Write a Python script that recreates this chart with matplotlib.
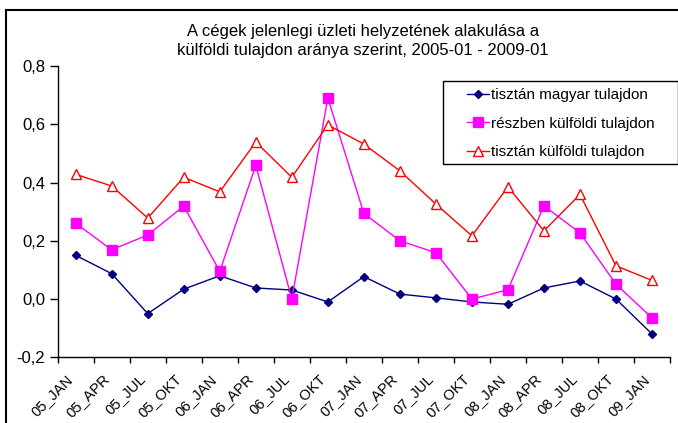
import matplotlib
matplotlib.use('Agg')
import matplotlib.pyplot as plt
import matplotlib.transforms as mtransforms
from matplotlib.ticker import FuncFormatter, FixedLocator
from matplotlib.lines import Line2D
from matplotlib.patches import Rectangle

plt.rcParams['font.family'] = ['Liberation Sans', 'DejaVu Sans']

# negyedéves időszakok
periods = ['05_JAN', '05_APR', '05_JUL', '05_OKT', '06_JAN', '06_APR', '06_JUL', '06_OKT',
           '07_JAN', '07_APR', '07_JUL', '07_OKT', '08_JAN', '08_APR', '08_JUL', '08_OKT', '09_JAN']

magyar = [0.150, 0.087, -0.050, 0.034, 0.080, 0.038, 0.031, -0.010,
          0.077, 0.017, 0.004, -0.010, -0.018, 0.038, 0.062, 0.000, -0.120]
reszben = [0.260, 0.169, 0.220, 0.319, 0.095, 0.459, 0.000, 0.690,
           0.294, 0.200, 0.159, 0.000, 0.032, 0.320, 0.227, 0.051, -0.065]
kulfoldi = [0.428, 0.388, 0.278, 0.418, 0.368, 0.539, 0.418, 0.598,
            0.532, 0.440, 0.326, 0.217, 0.385, 0.234, 0.359, 0.114, 0.064]

labels = ['tisztán magyar tulajdon', 'részben külföldi tulajdon', 'tisztán külföldi tulajdon']

W, H = 678, 423
fig = plt.figure(figsize=(W / 100, H / 100), dpi=100)
ax = fig.add_axes([57.7 / W, 1 - 357.3 / H, (670 - 57.7) / W, (357.3 - 66) / H])

x = list(range(len(periods)))
ax.plot(x, magyar, color='#000080', lw=1, marker='D', ms=4.5, mfc='#000080', mec='#000080',
        label=labels[0])
ax.plot(x, reszben, color='#FF00FF', lw=1, marker='s', ms=6.5, mfc='#FF00FF', mec='#FF00FF',
        label=labels[1])
ax.plot(x, kulfoldi, color='#FF0000', lw=1, marker='^', ms=6.5, mfc='white', mec='#FF0000',
        mew=1, label=labels[2])

ax.set_xlim(-0.5, len(periods) - 0.5)
ax.set_ylim(-0.2, 0.8)
ax.set_yticks([-0.2, 0.0, 0.2, 0.4, 0.6, 0.8])
ax.yaxis.set_major_formatter(FuncFormatter(lambda v, p: ('%.1f' % v).replace('.', ',')))

ax.xaxis.set_major_locator(FixedLocator([i - 0.5 for i in range(len(periods) + 1)]))
ax.xaxis.set_minor_locator(FixedLocator(x))
ax.set_xticklabels([])
ax.set_xticklabels(periods, minor=True, rotation=45, ha='right', va='center',
                   rotation_mode='anchor', fontsize=10.5)
ax.tick_params(axis='x', which='minor', length=0, pad=14)
ax.tick_params(axis='x', which='major', length=4, direction='out', width=1)
ax.tick_params(axis='y', length=5.5, direction='out', width=1, labelsize=12, pad=3.6)

# a feliratokat kicsit balra toljuk
shift = mtransforms.ScaledTranslation(-5 / 100, 0, fig.dpi_scale_trans)
for lab in ax.get_xticklabels(minor=True):
    lab.set_transform(lab.get_transform() + shift)

for s in ['top', 'right']:
    ax.spines[s].set_visible(False)
for s in ['left', 'bottom']:
    ax.spines[s].set_linewidth(1)
    ax.spines[s].set_color('black')

fig.text(363 / W, 1 - 41 / H, 'A cégek jelenlegi üzleti helyzetének alakulása a\n'
         'külföldi tulajdon aránya szerint, 2005-01 - 2009-01',
         ha='center', va='center', fontsize=12, linespacing=1.32)

# jelmagyarázat keret nélkül, a keretet külön rajzoljuk
leg = ax.legend(loc='upper left', bbox_to_anchor=(467 / W, 1 - 88 / H),
                bbox_transform=fig.transFigure, frameon=False, fontsize=11,
                handlelength=1.45, handletextpad=0.1, borderpad=0, labelspacing=0.95,
                borderaxespad=0)
fig.add_artist(Rectangle((443 / W, 1 - 164.3 / H), (677.5 - 443) / W, (164.3 - 80.7) / H,
                         transform=fig.transFigure, fill=False, edgecolor='black', lw=1))

# külső keret
fig.add_artist(Line2D([6 / W, 6 / W], [0, 1 - 10 / H], transform=fig.transFigure,
                      color='black', lw=1.5))
fig.add_artist(Line2D([6 / W, 1], [1 - 10 / H, 1 - 10 / H], transform=fig.transFigure,
                      color='black', lw=1.5))

fig.savefig('out.png', dpi=100)
